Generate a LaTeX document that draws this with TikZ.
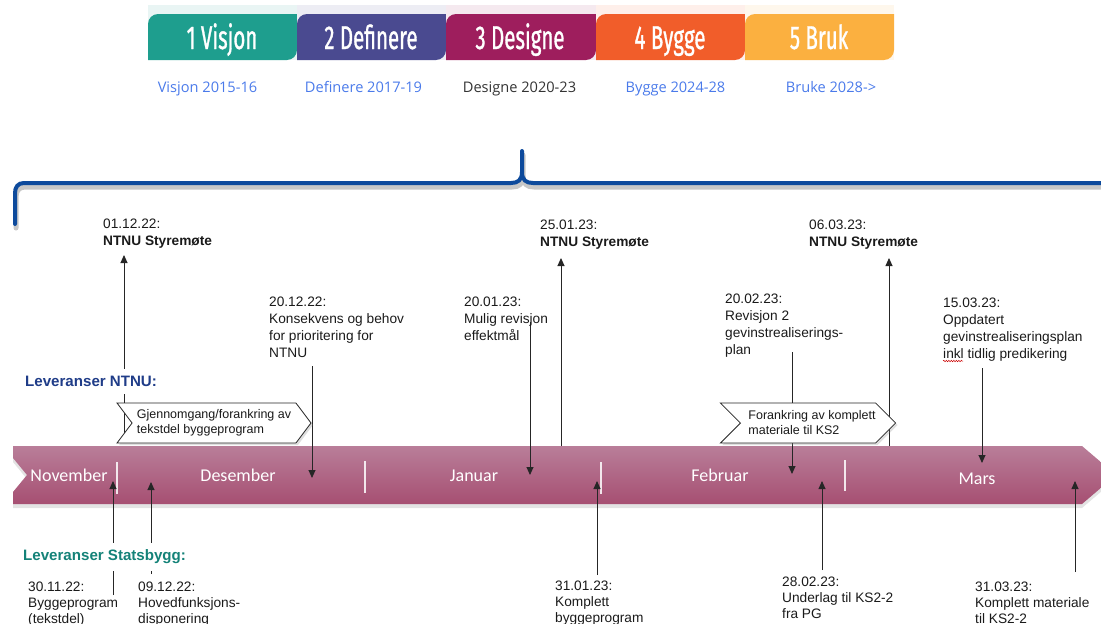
\documentclass[tikz,border=0pt]{standalone}
\usepackage{fontspec}
\setmainfont{Liberation Sans}
\newfontfamily\monthfont{Carlito}
\newfontfamily\subfont{Open Sans}
\newfontfamily\tabfont[FakeStretch=0.62,FakeBold=0.9]{Fira Sans}
\usetikzlibrary{shapes.symbols,shadows,decorations.pathmorphing,arrows.meta}
\definecolor{tabA}{HTML}{1E9E8E}
\definecolor{tabB}{HTML}{4A4A90}
\definecolor{tabC}{HTML}{9E1E5D}
\definecolor{tabD}{HTML}{F15D2A}
\definecolor{tabE}{HTML}{FBB040}
\definecolor{subblue}{HTML}{4A7AEA}
\definecolor{subgray}{HTML}{333333}
\definecolor{bracecol}{HTML}{0D4A9C}
\definecolor{barTop}{HTML}{B97E99}
\definecolor{barBot}{HTML}{A64F72}
\definecolor{ntnublue}{HTML}{1F3C88}
\definecolor{sbteal}{HTML}{148278}
\definecolor{txt}{HTML}{1A1A1A}
\begin{document}
\begin{tikzpicture}[x=1pt,y=-1pt,
  lbl/.style={anchor=north west, inner sep=0pt, align=left, text=txt,
    font=\fontsize{13.7}{17}\selectfont},
  lblb/.style={lbl, font=\fontsize{13.7}{16}\selectfont},
  arr/.style={draw=black!85, line width=0.9pt, -{Triangle[length=8pt,width=7pt]}},
  month/.style={anchor=base, inner sep=0pt, text=white,
    font=\monthfont\fontsize{18}{18}\selectfont},
  chev/.style={signal, signal from=west, signal to=east, draw=black!85, fill=white,
    line width=0.8pt, minimum height=40pt, inner sep=0pt, align=left, text=txt,
    font=\fontsize{12.5}{15}\selectfont,
    drop shadow={shadow xshift=2pt, shadow yshift=-2pt, opacity=0.25}},
  tabtext/.style={anchor=base, inner sep=0pt, text=white,
    font=\tabfont\fontsize{33}{33}\selectfont},
  sub/.style={anchor=base, inner sep=0pt, text=subblue,
    font=\subfont\fontsize{14.6}{15}\selectfont},
  head/.style={anchor=base west, inner xsep=1pt, inner ysep=7pt, fill=white,
    font=\bfseries\fontsize{15.1}{16}\selectfont},
  sep/.style={draw=white, line width=1.1pt, opacity=0.85}
]
\useasboundingbox (0,0) rectangle (1101,624);
\clip (0,0) rectangle (1101,624);

% ---------- phase tabs ----------
\foreach \xa/\xb/\col in {148/297/tabA, 297/446/tabB, 446/596/tabC, 596/745/tabD, 745/894/tabE}{
  \fill[\col!10] (\xa,5) rectangle (\xb,60);
  \fill[\col] (\xa,60) -- (\xa,24) .. controls (\xa,18.5) and (\xa+4.5,14) .. (\xa+10,14)
     -- (\xb,14) -- (\xb,50) .. controls (\xb,55.5) and (\xb-4.5,60) .. (\xb-10,60) -- cycle;
}
\node[tabtext] (tab1) at (222,49) {1 Visjon};
\node[tabtext] (tab2) at (371,49) {2 Definere};
\node[tabtext] (tab3) at (520,49) {3 Designe};
\node[tabtext] (tab4) at (670,49) {4 Bygge};
\node[tabtext] (tab5) at (819,49) {5 Bruk};

\node[sub] (sub1) at (207.5,92) {Visjon 2015-16};
\node[sub] (sub2) at (363.5,92) {Definere 2017-19};
\node[sub, text=subgray] (sub3) at (519.5,92) {Designe 2020-23};
\node[sub] (sub4) at (675.5,92) {Bygge 2024-28};
\node[sub] (sub5) at (831,92) {Bruke 2028->};

% ---------- brace ----------
\foreach \dx/\dy/\c/\w in {1/4/black!22/5, 0/0/bracecol/4}{
  \begin{scope}[shift={(\dx,\dy)}]
    \draw[\c, line width=\w pt, line cap=round]
      (15,224) -- (15,193) .. controls (15,187) and (18,183) .. (24,183) -- (511,183)
      .. controls (518,183) and (522,180) .. (522,172) -- (522,151);
    \draw[\c, line width=\w pt]
      (522,172) .. controls (522,180) and (526,183) .. (533,183) -- (1105,183);
  \end{scope}
}

% ---------- timeline bar ----------
\path[top color=barTop, bottom color=barBot,
      drop shadow={shadow xshift=0pt, shadow yshift=-4pt, opacity=0.22}]
  (13,446) -- (1082,446) -- (1116,475) -- (1082,504) -- (13,504)
  -- (13,492) -- (27,475) -- (13,458) -- cycle;
\draw[sep] (117,462) -- (117,494);
\draw[sep] (365,461) -- (365,493);
\draw[sep] (601,462) -- (601,494);
\draw[sep] (845,460) -- (845,491);

\node[month] (mnov) at (69,481) {November};
\node[month] (mdes) at (238,481) {Desember};
\node[month] (mjan) at (474,481) {Januar};
\node[month] (mfeb) at (720,481) {Februar};
\node[month] (mmar) at (977,484) {Mars};

% ---------- connectors ----------
\coordinate (a1s) at (124,440); \coordinate (a1e) at (124,255);
\coordinate (a2s) at (561,446); \coordinate (a2e) at (561,258);
\coordinate (a3s) at (889,446); \coordinate (a3e) at (889,258);
\coordinate (d1s) at (312,366); \coordinate (d1e) at (312,478);
\coordinate (d2s) at (530,322); \coordinate (d2e) at (530,475);
\coordinate (d3s) at (792,352); \coordinate (d3e) at (792,474);
\coordinate (d4s) at (982,368); \coordinate (d4e) at (982,463);
\coordinate (u1s) at (113,595); \coordinate (u1e) at (113,481);
\coordinate (u2s) at (151,574); \coordinate (u2e) at (151,482);
\coordinate (u3s) at (597,575); \coordinate (u3e) at (597,481);
\coordinate (u4s) at (822,570); \coordinate (u4e) at (822,481);
\coordinate (u5s) at (1075,572); \coordinate (u5e) at (1075,481);
\foreach \p in {a1,a2,a3,d1,d2,d3,d4,u1,u2,u3,u4,u5}{
  \draw[arr] (\p s) -- (\p e);
}

% ---------- section headings ----------
\node[head, text=ntnublue] (hntnu) at (24,386.5) {Leveranser NTNU:};
\node[head, text=sbteal] (hsb) at (22,560.5) {Leveranser Statsbygg:};

% ---------- chevrons ----------
\node[chev, minimum width=194pt, signal pointer angle=106] (chev1) at (214,423)
  {Gjennomgang/forankring av\\tekstdel byggeprogram};
\node[chev, minimum width=168pt, signal pointer angle=90] (chev2) at (808,423)
  {\hspace*{8pt}Forankring av komplett\\\hspace*{8pt}materiale til KS2};

% ---------- top labels ----------
\node[lbl] (l1) at (103,219) {01.12.22:\\\textbf{NTNU Styremøte}};
\node[lbl] (l2) at (540,220) {25.01.23:\\\textbf{NTNU Styremøte}};
\node[lbl] (l3) at (809,220) {06.03.23:\\\textbf{NTNU Styremøte}};
\node[lbl] (l4) at (269,297) {20.12.22:\\Konsekvens og behov\\for prioritering for\\NTNU};
\node[lbl] (l5) at (464,297) {20.01.23:\\Mulig revisjon\\effektmål};
\node[lbl] (l6) at (725,294) {20.02.23:\\Revisjon 2\\gevinstrealiserings-\\plan};
\node[lbl] (l7) at (943,298) {15.03.23:\\Oppdatert\\gevinstrealiseringsplan\\inkl tidlig predikering};
\draw[red!80!black, line width=0.5pt, decorate,
      decoration={snake, amplitude=0.7pt, segment length=2.5pt}] (943,361) -- (963,361);

% ---------- bottom labels ----------
\node[lblb] (b1) at (28,582) {30.11.22:\\Byggeprogram\\(tekstdel)};
\node[lblb] (b2) at (138,582) {09.12.22:\\Hovedfunksjons-\\disponering};
\node[lblb] (b3) at (555,581) {31.01.23:\\Komplett\\byggeprogram};
\node[lblb] (b4) at (782,577) {28.02.23:\\Underlag til KS2-2\\fra PG};
\node[lblb] (b5) at (975,582) {31.03.23:\\Komplett materiale\\til KS2-2};
\end{tikzpicture}
\end{document}
